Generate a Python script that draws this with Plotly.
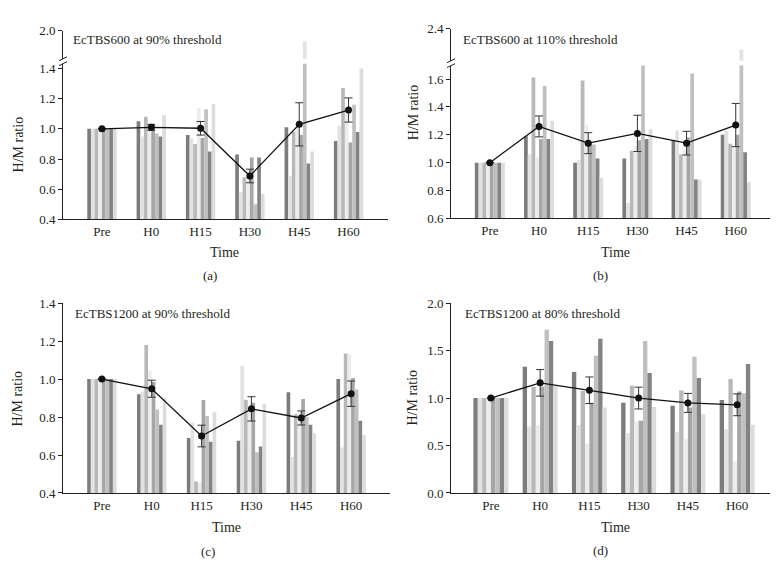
import plotly.graph_objects as go

# ---------------- data ----------------
times = ["Pre", "H0", "H15", "H30", "H45", "H60"]
subject_colors = ["#7c7c7c", "#e2e2e2", "#b8b8b8", "#ececec",
                  "#a6a6a6", "#c0c0c0", "#838383", "#dcdcdc"]
upper_color = "#e2e2e2"

# (a) EcTBS600 at 90% threshold : one row per time point, 8 subjects
a_bars = [
    [1.00, 1.00, 1.00, 1.00, 1.00, 1.00, 1.00, 1.00],
    [1.05, 0.95, 1.08, 1.01, 1.03, 0.97, 0.95, 1.09],
    [0.96, 0.94, 0.90, 1.14, 0.94, 1.13, 0.85, 1.165],
    [0.83, 0.58, 0.68, 0.72, 0.81, 0.50, 0.81, 0.57],
    [1.01, 0.69, 0.98, 1.02, 0.96, 1.93, 0.77, 0.85],
    [0.92, 1.02, 1.27, 1.10, 0.91, 1.16, 0.98, 1.40],
]
a_mean = [1.00, 1.01, 1.004, 0.688, 1.03, 1.125]
a_err = [0.0, 0.02, 0.045, 0.045, 0.143, 0.08]

# (b) EcTBS600 at 110% threshold
b_bars = [
    [1.00, 1.00, 1.00, 1.00, 1.00, 1.00, 1.00, 1.00],
    [1.19, 1.06, 1.61, 1.04, 1.17, 1.55, 1.17, 1.30],
    [1.00, 1.02, 1.59, 1.27, 1.14, 1.13, 1.03, 0.89],
    [1.03, 0.71, 1.085, 1.12, 1.16, 1.70, 1.17, 1.24],
    [1.16, 1.23, 1.06, 1.09, 1.18, 1.64, 0.88, 0.88],
    [1.20, 1.23, 1.135, 1.12, 1.20, 2.25, 1.075, 0.86],
]
b_mean = [1.00, 1.26, 1.14, 1.21, 1.14, 1.27]
b_err = [0.0, 0.075, 0.075, 0.13, 0.085, 0.155]

# (c) EcTBS1200 at 90% threshold
c_bars = [
    [1.00, 1.00, 1.00, 1.00, 1.00, 1.00, 1.00, 1.00],
    [0.92, 0.935, 1.18, 1.045, 0.985, 0.84, 0.76, 0.90],
    [0.69, 0.77, 0.46, 0.455, 0.89, 0.805, 0.67, 0.825],
    [0.675, 1.07, 0.89, 0.85, 0.875, 0.615, 0.645, 0.87],
    [0.93, 0.59, 0.815, 0.82, 0.895, 0.80, 0.76, 0.715],
    [1.00, 0.64, 1.135, 1.135, 1.005, 0.945, 0.78, 0.705],
]
c_mean = [1.00, 0.949, 0.70, 0.843, 0.795, 0.923]
c_err = [0.0, 0.045, 0.057, 0.064, 0.037, 0.067]

# (d) EcTBS1200 at 80% threshold
d_bars = [
    [1.00, 1.00, 1.00, 1.00, 1.00, 1.00, 1.00, 1.00],
    [1.33, 0.70, 1.12, 0.72, 1.12, 1.72, 1.60, 1.13],
    [1.275, 0.715, 1.075, 0.525, 0.95, 1.445, 1.625, 0.90],
    [0.95, 0.63, 1.13, 0.75, 0.76, 1.60, 1.265, 0.905],
    [0.92, 0.64, 1.08, 0.57, 0.90, 1.435, 1.21, 0.83],
    [0.98, 0.67, 1.20, 0.335, 1.07, 1.05, 1.36, 0.72],
]
d_mean = [1.00, 1.16, 1.082, 1.00, 0.949, 0.929]
d_err = [0.0, 0.14, 0.14, 0.115, 0.10, 0.115]

titles = ["EcTBS600 at 90% threshold", "EcTBS600 at 110% threshold",
          "EcTBS1200 at 90% threshold", "EcTBS1200 at 80% threshold"]
letters = ["(a)", "(b)", "(c)", "(d)"]

# ---------------- layout helpers ----------------
W, H = 778, 565
FONT = "Liberation Serif"
INK = "#231f20"


def px(x):
    return x / W


def py(y):
    return 1 - y / H


panels = [
    dict(bars=a_bars, mean=a_mean, err=a_err, xa="x", ya="y", yu="y2",
         xdom=(55, 380), xr=(-0.79, 5.80), lower=(210, 50), lrange=(0.4, 1.432),
         ltick=[0.4, 0.6, 0.8, 1.0, 1.2, 1.4], upper=(45, 16), urange=(1.813, 2.0),
         utick=[2.0], gw=0.595),
    dict(bars=b_bars, mean=b_mean, err=b_err, xa="x2", ya="y3", yu="y4",
         xdom=(443, 772), xr=(-0.79, 5.90), lower=(209, 52), lrange=(0.6, 1.696),
         ltick=[0.6, 0.8, 1.0, 1.2, 1.4, 1.6], upper=(47, 14), urange=(2.17, 2.4),
         utick=[2.4], gw=0.61),
    dict(bars=c_bars, mean=c_mean, err=c_err, xa="x3", ya="y5", yu=None,
         xdom=(55, 382), xr=(-0.78, 5.78), lower=(491, 296), lrange=(0.4, 1.4),
         ltick=[0.4, 0.6, 0.8, 1.0, 1.2, 1.4], gw=0.59),
    dict(bars=d_bars, mean=d_mean, err=d_err, xa="x4", ya="y6", yu=None,
         xdom=(443, 772), xr=(-0.81, 5.87), lower=(491, 296), lrange=(0.0, 2.0),
         ltick=[0.0, 0.5, 1.0, 1.5, 2.0], gw=0.71),
]

fig = go.Figure()
layout = {}
tickfont = dict(family=FONT, size=13, color=INK)

for p in panels:
    nsub = len(subject_colors)
    w = p["gw"] / nsub
    targets = [(p["ya"], subject_colors)]
    if p["yu"]:
        targets.append((p["yu"], [upper_color] * nsub))
    for yax, cols in targets:
        for k in range(nsub):
            fig.add_trace(go.Bar(
                x=times, y=[row[k] for row in p["bars"]],
                xaxis=p["xa"], yaxis=yax,
                width=w, offset=-p["gw"] / 2 + k * w,
                marker=dict(color=cols[k], line=dict(width=0)),
                showlegend=False, hoverinfo="skip"))
    fig.add_trace(go.Scatter(
        x=times, y=p["mean"], xaxis=p["xa"], yaxis=p["ya"],
        mode="lines+markers",
        line=dict(color="#111111", width=1.3),
        marker=dict(color="#111111", size=7),
        error_y=dict(type="data", array=p["err"], visible=True,
                     color="#333333", thickness=1, width=4),
        showlegend=False))

    xkey = "xaxis" + p["xa"][1:]
    ykey = "yaxis" + p["ya"][1:]
    layout[xkey] = dict(
        domain=[px(p["xdom"][0]), px(p["xdom"][1])], anchor=p["ya"],
        type="category", range=list(p["xr"]), showgrid=False, zeroline=False,
        showline=True, linecolor=INK, linewidth=1, ticks="",
        tickfont=tickfont, fixedrange=True)
    layout[ykey] = dict(
        domain=[py(p["lower"][0]), py(p["lower"][1])], anchor=p["xa"],
        range=list(p["lrange"]), tickvals=p["ltick"], tickformat=".1f",
        showgrid=False, zeroline=False, showline=True, linecolor=INK,
        linewidth=1, ticks="outside", ticklen=4, tickcolor=INK,
        tickfont=tickfont, fixedrange=True)
    if p["yu"]:
        ukey = "yaxis" + p["yu"][1:]
        layout[ukey] = dict(
            domain=[py(p["upper"][0]), py(p["upper"][1])], anchor=p["xa"],
            range=list(p["urange"]), tickvals=p["utick"], tickformat=".1f",
            showgrid=False, zeroline=False, showline=True, linecolor=INK,
            linewidth=1, ticks="outside", ticklen=4, tickcolor=INK,
            tickfont=tickfont, fixedrange=True)

# ---------------- text ----------------
annotations = []
text_font = dict(family=FONT, size=13, color=INK)
title_pos = [(63, 25), (453, 25), (65, 307), (455, 307)]
for t, (tx, ty) in zip(titles, title_pos):
    annotations.append(dict(text=t, x=px(tx), y=py(ty), xref="paper", yref="paper",
                            xanchor="left", yanchor="middle", showarrow=False,
                            font=text_font))
for lx, ly, lab in [(217, 244, "Time"), (607, 244, "Time"),
                    (218, 526, "Time"), (607, 526, "Time")]:
    annotations.append(dict(text=lab, x=px(lx), y=py(ly), xref="paper", yref="paper",
                            xanchor="center", yanchor="middle", showarrow=False,
                            font=dict(family=FONT, size=14, color=INK)))
for (lx, ly), lab in zip([(202, 268), (592, 268), (200, 551), (592, 550)], letters):
    annotations.append(dict(text=lab, x=px(lx), y=py(ly), xref="paper", yref="paper",
                            xanchor="center", yanchor="middle", showarrow=False,
                            font=text_font))
for lx, ly in [(10, 133), (405, 100), (10, 394), (405, 393)]:
    annotations.append(dict(text="H/M ratio", x=px(lx), y=py(ly), xref="paper",
                            yref="paper", xanchor="center", yanchor="middle",
                            textangle=-90, showarrow=False,
                            font=dict(family=FONT, size=14, color=INK)))

# ---------------- axis-break marks ----------------
shapes = []
for bx, y_hi, y_lo in [(55, 45, 50), (443, 47, 52)]:
    for yy in (y_hi, y_lo):
        shapes.append(dict(type="line", xref="paper", yref="paper",
                           x0=px(bx - 4), y0=py(yy + 2), x1=px(bx + 4), y1=py(yy - 2),
                           line=dict(color=INK, width=1)))

fig.update_layout(
    width=W, height=H, autosize=False,
    margin=dict(l=0, r=0, t=0, b=0),
    paper_bgcolor="white", plot_bgcolor="white",
    barmode="overlay", showlegend=False,
    annotations=annotations, shapes=shapes,
    font=dict(family=FONT, color=INK),
    **layout)

fig.write_html("out.html")
